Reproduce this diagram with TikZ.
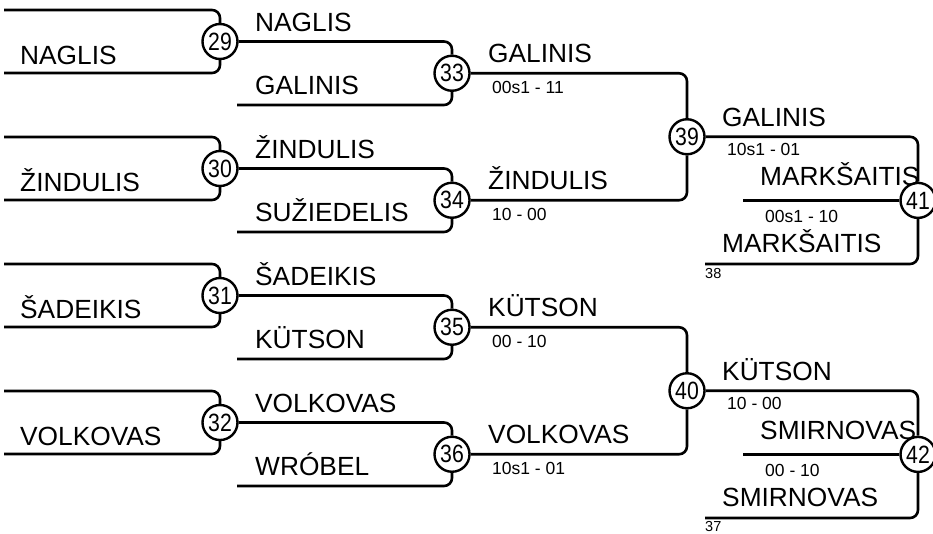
\documentclass[tikz,border=0pt]{standalone}
\usepackage{fontspec}
\setmainfont{Liberation Sans}
\newfontfamily\numfont[FakeStretch=0.85]{Liberation Sans}
\begin{document}
\begin{tikzpicture}[x=1pt,y=-1pt,
  ln/.style={line width=2.6pt, rounded corners=8pt},
  rnd/.style={circle, draw, line width=2.4pt, fill=white, minimum size=35pt, inner sep=0pt, font=\numfont\fontsize{25}{25}\selectfont},
  nm/.style={anchor=base west, inner sep=0pt, font=\fontsize{26.3}{26}\selectfont},
  sc/.style={anchor=base west, inner sep=0pt, font=\fontsize{17.5}{17}\selectfont},
  small/.style={anchor=base west, inner sep=0pt, font=\fontsize{14.5}{14}\selectfont}]
\useasboundingbox (0,0) rectangle (933,533);
% circles
\node[rnd] (c29) at (220,41.5) {29};
\node[rnd] (c30) at (220,168.5) {30};
\node[rnd] (c31) at (220,295.5) {31};
\node[rnd] (c32) at (220,422.5) {32};
\node[rnd] (c33) at (452,73.25) {33};
\node[rnd] (c34) at (452,200.25) {34};
\node[rnd] (c35) at (452,327.25) {35};
\node[rnd] (c36) at (452,454.25) {36};
\node[rnd] (c39) at (687,136.75) {39};
\node[rnd] (c40) at (687,390.75) {40};
\node[rnd] (c41) at (918,200.4) {41};
\node[rnd] (c42) at (918,454.4) {42};
% free ends
\coordinate (a1) at (4,10);   \coordinate (a2) at (4,73);
\coordinate (a3) at (4,137);  \coordinate (a4) at (4,200);
\coordinate (a5) at (4,264);  \coordinate (a6) at (4,327);
\coordinate (a7) at (4,391);  \coordinate (a8) at (4,454);
\coordinate (b33) at (237,105); \coordinate (b34) at (237,232);
\coordinate (b35) at (237,359); \coordinate (b36) at (237,486);
\coordinate (b41) at (705,264); \coordinate (b42) at (705,518);
\coordinate (m41) at (743,200.4); \coordinate (m42) at (743,454.4);
% round 1
\draw[ln] (a1) -| (c29.north); \draw[ln] (a2) -| (c29.south);
\draw[ln] (a3) -| (c30.north); \draw[ln] (a4) -| (c30.south);
\draw[ln] (a5) -| (c31.north); \draw[ln] (a6) -| (c31.south);
\draw[ln] (a7) -| (c32.north); \draw[ln] (a8) -| (c32.south);
% round 2
\draw[ln] (c29.east) -| (c33.north); \draw[ln] (b33) -| (c33.south);
\draw[ln] (c30.east) -| (c34.north); \draw[ln] (b34) -| (c34.south);
\draw[ln] (c31.east) -| (c35.north); \draw[ln] (b35) -| (c35.south);
\draw[ln] (c32.east) -| (c36.north); \draw[ln] (b36) -| (c36.south);
% round 3
\draw[ln] (c33.east) -| (c39.north); \draw[ln] (c34.east) -| (c39.south);
\draw[ln] (c35.east) -| (c40.north); \draw[ln] (c36.east) -| (c40.south);
% round 4
\draw[ln] (c39.east) -| (c41.north); \draw[ln] (b41) -| (c41.south);
\draw[ln] (c40.east) -| (c42.north); \draw[ln] (b42) -| (c42.south);
\draw[ln] (m41) -- (c41.west);
\draw[ln] (m42) -- (c42.west);
% round 1 names
\node[nm] (t1) at (20,64) {NAGLIS};
\node[nm] (t2) at (20,191) {ŽINDULIS};
\node[nm] (t3) at (20,318) {ŠADEIKIS};
\node[nm] (t4) at (20,445) {VOLKOVAS};
% round 2 names
\node[nm] (u1) at (255,31) {NAGLIS};
\node[nm] (u2) at (255,94) {GALINIS};
\node[nm] (u3) at (255,158) {ŽINDULIS};
\node[nm] (u4) at (255,221) {SUŽIEDELIS};
\node[nm] (u5) at (255,285) {ŠADEIKIS};
\node[nm] (u6) at (255,348) {KÜTSON};
\node[nm] (u7) at (255,412) {VOLKOVAS};
\node[nm] (u8) at (255,475) {WRÓBEL};
% round 3 names and scores
\node[nm] (v1) at (488,62) {GALINIS};
\node[nm] (v2) at (488,189) {ŽINDULIS};
\node[nm] (v3) at (488,316) {KÜTSON};
\node[nm] (v4) at (488,443) {VOLKOVAS};
\node[sc] (s1) at (492,93) {00s1 - 11};
\node[sc] (s2) at (492,220) {10 - 00};
\node[sc] (s3) at (492,347) {00 - 10};
\node[sc] (s4) at (492,474) {10s1 - 01};
% round 4
\node[nm] (w1) at (722,126) {GALINIS};
\node[sc] (s5) at (727,155) {10s1 - 01};
\node[nm] (w2) at (760,185) {MARKŠAITIS};
\node[sc] (s6) at (765,222) {00s1 - 10};
\node[nm] (w3) at (722,252) {MARKŠAITIS};
\node[small] (n38) at (705,278) {38};
\node[nm] (w4) at (722,380) {KÜTSON};
\node[sc] (s7) at (727,409) {10 - 00};
\node[nm] (w5) at (760,439) {SMIRNOVAS};
\node[sc] (s8) at (765,476) {00 - 10};
\node[nm] (w6) at (722,506) {SMIRNOVAS};
\node[small] (n37) at (705,531) {37};
\end{tikzpicture}
\end{document}
